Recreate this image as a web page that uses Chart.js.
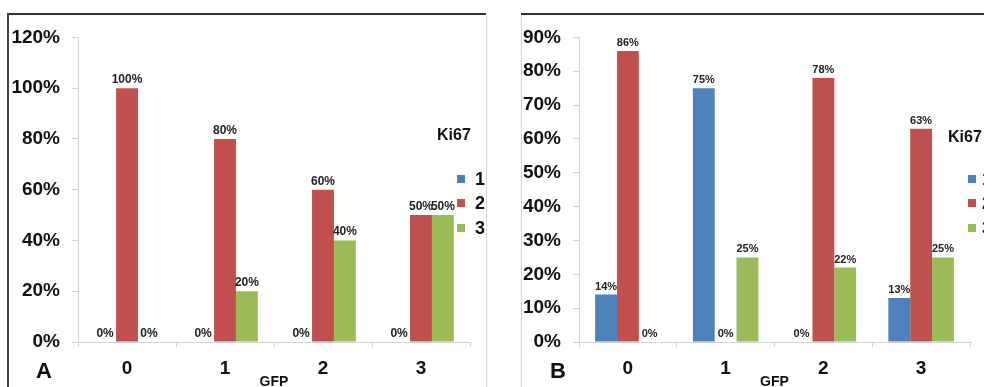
<!DOCTYPE html>
<html>
<head>
<meta charset="utf-8">
<script src="https://cdn.jsdelivr.net/npm/chart.js@4/dist/chart.umd.min.js"></script>
<style>
  html, body { margin: 0; padding: 0; width: 984px; height: 387px; overflow: hidden; background: #fff;
    font-family: "Liberation Sans", Arial, Helvetica, sans-serif; }
  .abs { position: absolute; }
  canvas.abs { display: block; }
  .line { position: absolute; }
  .panelTag { position: absolute; font-weight: bold; font-size: 22px; line-height: 22px; color: #111; }
  .legTitle { position: absolute; font-weight: bold; font-size: 16px; line-height: 18px; color: #111; white-space: nowrap; }
  .legItem { position: absolute; height: 18px; display: flex; align-items: center; white-space: nowrap;
    font-weight: bold; font-size: 18px; color: #111; }
</style>
</head>
<body>

<!-- panel frames -->
<div class="line" style="left:8px;top:13px;width:478px;height:2px;background:#333;"></div>
<div class="line" style="left:7px;top:13px;width:2px;height:380px;background:#444;"></div>
<div class="line" style="left:486px;top:15px;width:1px;height:380px;background:#d6d6d6;"></div>
<div class="line" style="left:521px;top:13px;width:470px;height:2px;background:#333;"></div>
<div class="line" style="left:521px;top:15px;width:1px;height:380px;background:#d6d6d6;"></div>

<canvas id="chartA" class="abs" style="left:8px;top:14px;" width="478" height="378"></canvas>
<canvas id="chartB" class="abs" style="left:521px;top:14px;" width="463" height="378"></canvas>

<div class="panelTag" style="left:36px;top:360px;">A</div>
<div class="panelTag" style="left:550px;top:360px;">B</div>

<div id="legendA"></div>
<div id="legendB"></div>

<script>
// GFP categories and Ki67 groups
const gfpCategories = ['0', '1', '2', '3'];
const ki67Groups = ['1', '2', '3'];
const groupColors = ['#4F81BD', '#C0504D', '#9BBB59'];

// Panel A: share of cells (%) per GFP score, by Ki67 group
const panelA_ki67_1 = [0, 0, 0, 0];
const panelA_ki67_2 = [100, 80, 60, 50];
const panelA_ki67_3 = [0, 20, 40, 50];
const panelA_yTicks = [0, 20, 40, 60, 80, 100, 120];

// Panel B: share of cells (%) per GFP score, by Ki67 group
const panelB_ki67_1 = [14, 75, 0, 13];
const panelB_ki67_2 = [86, 0, 78, 63];
const panelB_ki67_3 = [0, 25, 22, 25];
const panelB_yTicks = [0, 10, 20, 30, 40, 50, 60, 70, 80, 90];

const FONT = '"Liberation Sans", Arial, Helvetica, sans-serif';
const AXIS_GRAY = '#d4d4d4';

// writes each bar's value above it
const valueLabels = {
  id: 'valueLabels',
  afterDatasetsDraw(chart, args, opts) {
    const ctx = chart.ctx;
    ctx.save();
    ctx.font = 'bold ' + opts.size + 'px ' + FONT;
    ctx.fillStyle = '#222';
    ctx.textAlign = 'center';
    ctx.textBaseline = 'alphabetic';
    chart.data.datasets.forEach((ds, i) => {
      chart.getDatasetMeta(i).data.forEach((bar, j) => {
        ctx.fillText(ds.data[j] + '%', bar.x, bar.y - 5);
      });
    });
    ctx.restore();
  }
};

function makeChart(id, series, yTicks, cfg) {
  const datasets = series.map((vals, i) => ({
    label: ki67Groups[i],
    data: vals,
    backgroundColor: groupColors[i],
    borderWidth: 0,
    categoryPercentage: 0.67,
    barPercentage: 1.0
  }));
  return new Chart(document.getElementById(id), {
    type: 'bar',
    data: { labels: gfpCategories, datasets },
    plugins: [valueLabels],
    options: {
      responsive: false,
      animation: false,
      layout: { padding: { top: cfg.padTop, right: cfg.padRight, left: 0, bottom: 0 } },
      plugins: {
        legend: { display: false },
        tooltip: { enabled: false },
        valueLabels: { size: cfg.labelSize }
      },
      scales: {
        x: {
          grid: { offset: true, drawOnChartArea: false, tickLength: 5, color: AXIS_GRAY },
          border: { color: AXIS_GRAY },
          ticks: { font: { family: FONT, size: 19, weight: 'bold' }, color: '#111', padding: 10 },
          title: { display: true, text: 'GFP', color: '#111',
                   font: { family: FONT, size: 14, weight: 'bold' }, padding: { top: 0, bottom: 1 } },
          afterFit: s => { s.height = 50; }
        },
        y: {
          min: yTicks[0],
          max: yTicks[yTicks.length - 1],
          afterBuildTicks: s => { s.ticks = yTicks.map(v => ({ value: v })); },
          grid: { drawOnChartArea: false, tickLength: 6, color: AXIS_GRAY },
          border: { color: AXIS_GRAY },
          ticks: { font: { family: FONT, size: 19, weight: 'bold' }, color: '#111', padding: 12,
                   callback: v => v + '%' },
          afterFit: s => { s.width = cfg.yWidth; }
        }
      }
    }
  });
}

makeChart('chartA', [panelA_ki67_1, panelA_ki67_2, panelA_ki67_3], panelA_yTicks,
  { padTop: 13, padRight: 16, yWidth: 70, labelSize: 12 });
makeChart('chartB', [panelB_ki67_1, panelB_ki67_2, panelB_ki67_3], panelB_yTicks,
  { padTop: 12, padRight: 14, yWidth: 58, labelSize: 11 });

// Ki67 legends
function buildLegend(id, titleX, titleY, swX, textX, rowsY) {
  const host = document.getElementById(id);
  const t = document.createElement('div');
  t.className = 'legTitle';
  t.style.left = titleX + 'px';
  t.style.top = (titleY - 9) + 'px';
  t.textContent = 'Ki67';
  host.appendChild(t);
  ki67Groups.forEach((g, i) => {
    const sw = document.createElement('div');
    sw.style.cssText = 'position:absolute;left:' + swX + 'px;top:' + (rowsY[i] - 4) +
      'px;width:8px;height:8px;background:' + groupColors[i] + ';';
    host.appendChild(sw);
    const tx = document.createElement('div');
    tx.className = 'legItem';
    tx.style.left = textX + 'px';
    tx.style.top = (rowsY[i] - 9) + 'px';
    tx.textContent = g;
    host.appendChild(tx);
  });
}
buildLegend('legendA', 437, 135, 457, 475, [179, 203, 228]);
buildLegend('legendB', 948, 137, 968, 982, [179, 203, 228]);
</script>
</body>
</html>
